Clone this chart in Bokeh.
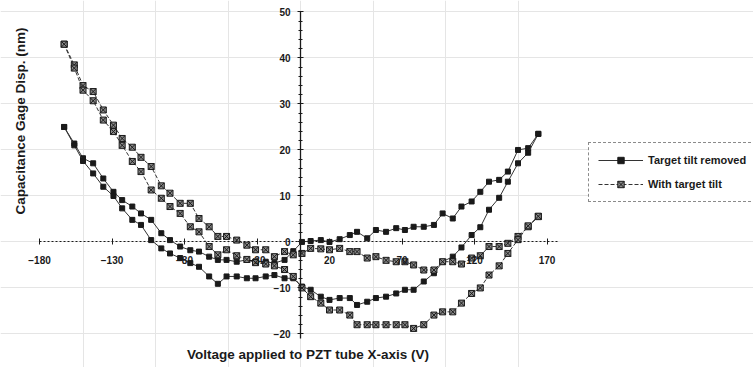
from bokeh.plotting import figure
from bokeh.models import Range1d, LinearAxis, FixedTicker, Legend, LegendItem, Label
from bokeh.embed import file_html
from bokeh.resources import INLINE

# ---- data ----
VOLTS = [-163, -156, -150, -143, -136, -129, -123, -116, -110, -103,
         -96, -90, -83, -76, -70, -63, -57, -51, -44, -37,
         -31, -24, -18, -11, -5, 1, 7, 14, 20, 27,
         34, 39, 46, 52, 59, 66, 72, 78, 85, 92,
         98, 105, 111, 118, 124, 130, 137, 143, 150, 157,
         164]

REMOVED_UP = [25.0, 21.4, 18.2, 17.1, 13.8, 10.9, 9.1, 7.7, 6.2, 4.8,
              1.9, 0.4, -1.0, -1.8, -2.1, -3.2, -3.9, -3.9, -4.3, -3.9,
              -4.2, -4.3, -4.6, -3.9, -2.0, 0.0, 0.2, 0.4, 0.0, 0.6,
              1.5, 2.2, 0.8, 2.6, 2.2, 3.0, 2.6, 3.3, 3.3, 3.7,
              6.2, 5.1, 7.7, 8.8, 10.9, 13.1, 13.5, 15.3, 20.0, 20.4,
              23.5]

REMOVED_DN = [25.0, 21.0, 17.6, 14.9, 12.0, 10.0, 7.3, 4.8, 3.7, 0.4,
              -1.4, -2.5, -3.5, -4.6, -5.4, -7.5, -9.1, -7.5, -7.5, -7.9,
              -7.9, -7.5, -7.2, -7.9, -7.9, -9.7, -10.4, -11.9, -12.6, -12.2,
              -12.2, -13.7, -13.0, -12.2, -11.9, -11.2, -10.4, -10.4, -8.6, -6.8,
              -4.3, -3.2, -1.2, 1.5, 3.2, 7.0, 9.6, 13.1, 17.1, 19.4,
              23.5]

TILT_UP = [43.0, 38.5, 34.0, 32.7, 28.7, 25.4, 22.5, 20.6, 18.4, 16.4,
           12.2, 10.6, 8.4, 8.4, 5.1, 3.3, 1.2, 1.2, 0.4, -0.7,
           -1.7, -1.7, -3.2, -2.1, -2.8, -2.5, -1.4, -1.5, -1.7, -1.4,
           -2.1, -2.1, -3.5, -3.2, -4.0, -4.3, -4.3, -5.0, -6.1, -6.1,
           -4.3, -4.3, -4.8, -3.5, -3.0, -1.0, -1.0, -0.3, 1.2, 3.3,
           5.5]

TILT_DN = [43.0, 37.8, 33.0, 30.7, 26.5, 24.0, 21.0, 17.5, 15.3, 11.3,
           9.5, 7.7, 6.2, 3.3, 2.2, -1.0, -2.8, -1.7, -3.0, -3.8,
           -4.5, -4.8, -5.2, -6.0, -7.5, -10.0, -11.9, -13.3, -14.8, -14.8,
           -15.9, -18.0, -18.0, -18.0, -18.0, -18.0, -18.0, -18.8, -18.0, -15.9,
           -15.2, -15.2, -13.3, -11.2, -10.0, -7.2, -5.2, -2.5, 0.5, 3.5,
           5.6]

X_TICKS = [-180, -130, -80, -30, 20, 70, 120, 170]
Y_TICKS = [50, 40, 30, 20, 10, 0, -10, -20]
Y_MINOR = [-20, -18, -16, -14, -12, -10, -8, -6, -4, -2, 0, 2, 4, 6, 8, 10,
           12, 14, 16, 18, 20, 22, 24, 26, 28, 30, 32, 34, 36, 38, 40, 42,
           44, 46, 48, 50]

SERIES_NAMES = ["Target tilt removed", "With target tilt"]
X_TITLE = "Voltage applied to PZT tube X-axis (V)"
Y_TITLE = "Capacitance Gage Disp. (nm)"

FONT = "Liberation Sans"
INK = "#1a1a1a"

p = figure(width=753, height=367,
           x_range=Range1d(-206.9, 312.4), y_range=Range1d(-27.3, 52.5),
           output_backend="svg", toolbar_location=None, min_border=0,
           x_axis_location=None, y_axis_location=None)
p.outline_line_color = None
p.background_fill_color = "white"
p.border_fill_color = "white"

# ---- axes crossing at the origin ----
xax = LinearAxis(fixed_location=0, bounds=(-180, 178),
                 ticker=FixedTicker(ticks=X_TICKS, minor_ticks=[]))
xax.axis_line_color = INK
xax.axis_line_dash = "2 2"
xax.major_tick_line_color = INK
xax.major_tick_in = 3
xax.major_tick_out = 3
xax.major_label_standoff = 11
xax.major_label_text_font = FONT
xax.major_label_text_font_size = "10px"
xax.major_label_text_font_style = "bold"
xax.major_label_text_color = INK
p.add_layout(xax, "below")

yax = LinearAxis(fixed_location=0, bounds=(-21, 50),
                 ticker=FixedTicker(ticks=Y_TICKS, minor_ticks=Y_MINOR))
yax.axis_line_color = INK
yax.axis_line_width = 1.3
yax.major_tick_line_color = INK
yax.major_tick_in = 3
yax.major_tick_out = 3
yax.minor_tick_line_color = INK
yax.minor_tick_in = 2
yax.minor_tick_out = 2
yax.major_label_standoff = 7
yax.major_label_text_font = FONT
yax.major_label_text_font_size = "10px"
yax.major_label_text_font_style = "bold"
yax.major_label_text_color = INK
p.add_layout(yax, "left")

# ---- data ----
r_line1 = p.line(VOLTS, REMOVED_UP, line_color="#333333", line_width=1)
r_pts1 = p.scatter(VOLTS, REMOVED_UP, marker="square", size=5,
                   fill_color=INK, line_color=INK)
r_line2 = p.line(VOLTS, REMOVED_DN, line_color="#333333", line_width=1)
p.scatter(VOLTS, REMOVED_DN, marker="square", size=5,
          fill_color=INK, line_color=INK)

t_line1 = p.line(VOLTS, TILT_UP, line_color="#333333", line_width=1,
                 line_dash="4 2")
t_pts1 = p.scatter(VOLTS, TILT_UP, marker="square_x", size=6,
                   fill_color="#8a8a8a", line_color=INK)
p.line(VOLTS, TILT_DN, line_color="#333333", line_width=1, line_dash="4 2")
p.scatter(VOLTS, TILT_DN, marker="square_x", size=6,
          fill_color="#8a8a8a", line_color=INK)

# ---- legend ----
legend = Legend(items=[LegendItem(label=SERIES_NAMES[0], renderers=[r_line1, r_pts1]),
                       LegendItem(label=SERIES_NAMES[1], renderers=[t_line1, t_pts1])],
                location=(588, 165), orientation="vertical",
                border_line_color=INK, border_line_dash="2 2", border_line_width=1,
                background_fill_color="white", background_fill_alpha=1.0,
                padding=9, spacing=8, margin=0,
                glyph_width=45, glyph_height=16, label_height=16,
                label_standoff=5, label_text_font=FONT,
                label_text_font_size="11px", label_text_font_style="bold",
                label_text_color=INK)
p.add_layout(legend, "center")

# ---- axis titles ----
p.add_layout(Label(x=5.2, y=-24.4, text=X_TITLE, text_align="center",
                   text_baseline="middle", text_font=FONT, text_font_size="13.5px",
                   text_font_style="bold", text_color=INK))
p.add_layout(Label(x=-193.0, y=26.3, text=Y_TITLE, angle=1.5708,
                   text_align="center", text_baseline="middle", text_font=FONT,
                   text_font_size="13.5px", text_font_style="bold", text_color=INK))

open("out.html", "w").write(file_html(p, INLINE))
